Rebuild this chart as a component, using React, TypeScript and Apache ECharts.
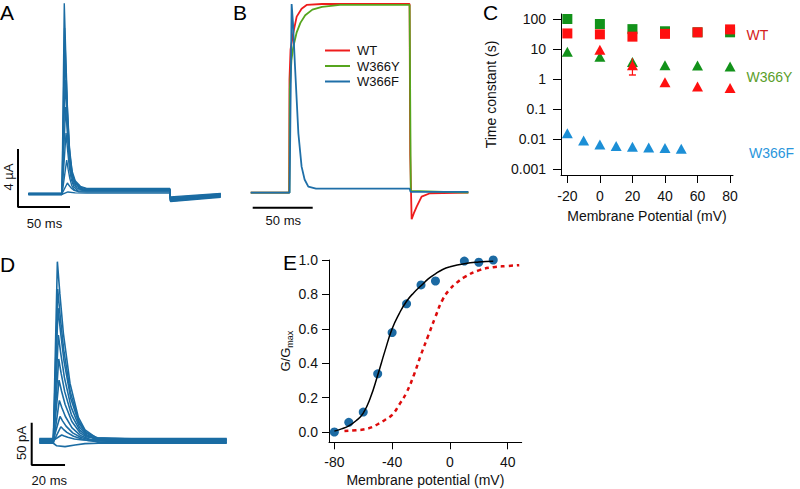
import React, { useEffect, useRef } from "react";
import * as echarts from "echarts";

const FONT = "'Liberation Sans', Arial, Helvetica, sans-serif";
const TRACE_BLUE = "#1b6ca3";

// ---------- Panel A: oocyte currents (t in ms, I in µA) ----------
const A_TRACES: number[][][] = [
  [[10,0.02],[42.3,0.02],[44.5,13.15],[46,9.47],[47.5,6.05],[49.5,3.16],[52,1.58],[55,0.92],[60,0.53],[66,0.38],[146,0.38],[146.6,-0.52],[195,-0.22]],
  [[10,-0.03],[42.3,-0.03],[44.8,11.45],[46.3,8.24],[47.8,5.27],[49.8,2.75],[52.3,1.37],[55.3,0.8],[60.3,0.46],[66,0.35],[146,0.35],[146.6,-0.48],[195,-0.18]],
  [[10,0.04],[42.3,0.04],[45.1,9.72],[46.6,7.0],[48.1,4.47],[50.1,2.33],[52.6,1.17],[55.6,0.68],[60.6,0.39],[66,0.32],[146,0.32],[146.6,-0.45],[195,-0.15]],
  [[10,-0.02],[42.3,-0.02],[45.4,7.86],[46.9,5.66],[48.4,3.62],[50.4,1.89],[52.9,0.94],[55.9,0.55],[60.9,0.32],[66,0.3],[146,0.3],[146.6,-0.42],[195,-0.12]],
  [[10,0],[42.3,0],[45.8,6.0],[47.3,4.32],[48.8,2.76],[50.8,1.44],[53.3,0.72],[56.3,0.42],[61.3,0.28],[66,0.27],[146,0.27],[146.6,-0.38],[195,-0.08]],
  [[10,0.05],[42.3,0.05],[46.2,4.2],[47.7,3.02],[49.2,1.93],[51.2,1.01],[53.7,0.5],[56.7,0.3],[66,0.24],[146,0.24],[146.6,-0.34],[195,-0.05]],
  [[10,-0.04],[42.3,-0.04],[46.8,2.34],[48.3,1.68],[49.8,1.08],[51.8,0.56],[54.3,0.28],[58,0.21],[66,0.2],[146,0.2],[146.6,-0.3],[195,-0.02]],
  [[10,0.02],[42.3,0.02],[47.5,0.76],[49,0.6],[51,0.42],[54,0.25],[58,0.16],[66,0.14],[146,0.14],[146.6,-0.25],[195,0.0]],
  [[10,-0.03],[42.3,-0.03],[48,0.14],[55,0.08],[66,0.06],[146,0.06],[146.6,-0.2],[195,0.03]],
];
const A_SCALEBAR = [[0, 3.1], [0, -0.9], [50, -0.9]];

// ---------- Panel B: normalised currents (t in ms) ----------
const B_WT = [[0.6,0],[32.6,0],[32.9,0.6],[33.8,0.76],[36,0.845],[38.9,0.933],[43,0.975],[47.2,0.995],[60,1.0],[133,1.0],[133.5,0.2],[134.7,-0.141],[136.5,-0.11],[138.9,-0.074],[143,-0.021],[150,-0.003],[182,0]];
const B_W366Y = [[0.6,0],[32.8,0],[33.2,0.55],[34.5,0.7],[36,0.77],[38.9,0.85],[42,0.9],[46,0.94],[52,0.97],[60,0.985],[75,0.995],[133,0.995],[134,0.01],[182,0]];
const B_W366F = [[0.6,0],[33,0],[34.7,1],[35.8,0.9],[37.5,0.67],[40.3,0.315],[43,0.138],[45.5,0.07],[48.6,0.032],[55,0.022],[133,0.022],[133.8,0.005],[182,0.004]];
const B_SCALEBAR = [[2.25, -0.0795], [52.25, -0.0795]];
const B_NAMES = ["WT", "W366Y", "W366F"];

// ---------- Panel C: time constants (s) vs membrane potential (mV) ----------
const C_VOLT = [-20, 0, 20, 40, 60, 80];
const C_WT_SLOW = [33, 30.8, 25.8, 32, 36, 45];
const C_W366Y_SLOW = [100, 68, 46, 39, 36, 36];
const C_W366Y_FAST = [8.1, 5.5, 3.7, 2.9, 2.8, 2.6];
const C_WT_FAST_VOLT = [0, 20, 40, 60, 80];
const C_WT_FAST = [9.5, 2.9, 0.78, 0.56, 0.5];
const C_W366F_VOLT = [-20, -10, 0, 10, 20, 30, 40, 50];
const C_W366F_TAU = [0.0155, 0.0089, 0.0066, 0.0059, 0.0055, 0.0052, 0.005, 0.0047];
const C_WT_ERR_VOLT = 20;
const C_WT_ERR = [1.36, 4.9];
const C_XTICKS = [-20, 0, 20, 40, 60, 80];
const C_YTICKS = [0.001, 0.01, 0.1, 1, 10, 100];

// ---------- Panel D: patch currents (t in ms, I in pA) ----------
const D_TRACES: number[][][] = [
  [[4.6,1],[13,1],[15.4,211.6],[16.9,173.5],[19,127],[23,67.7],[28,27.5],[32,12.7],[39,3],[60,1],[117,1]],
  [[4.6,-2],[13,-2],[15.6,179.3],[17.1,147],[19.2,107.6],[23.2,57.4],[28.2,23.3],[32.2,10.8],[39.2,0],[60,-2],[117,-2]],
  [[4.6,2],[13,2],[15.8,156.8],[17.3,128.6],[19.4,94.1],[23.4,50.2],[28.4,20.4],[32.4,9.4],[39.4,3.5],[60,2],[117,2]],
  [[4.6,-1],[13,-1],[16,124.9],[17.5,102.4],[19.6,74.9],[23.6,40],[28.6,16.2],[32.6,7.5],[39.6,0.5],[60,-1],[117,-1]],
  [[4.6,0],[13,0],[16.2,96.6],[17.7,79.2],[19.8,58],[23.8,30.9],[28.8,12.6],[32.8,5.8],[39.8,1],[60,0],[117,0]],
  [[4.6,2.5],[13,2.5],[16.4,71.6],[17.9,58.7],[20,43],[24,22.9],[29,9.3],[33,4.3],[40,3],[60,2.5],[117,2.5]],
  [[4.6,-2.5],[13,-2.5],[16.6,47.6],[18.1,39],[20.2,28.6],[24.2,15.2],[29.2,6.2],[33.2,2.9],[40.2,-2],[60,-2.5],[117,-2.5]],
  [[4.6,1.5],[13,1.5],[17,28.7],[18.5,23.5],[20.6,17.2],[24.6,9.2],[29.6,3.7],[33.6,1.7],[40.6,1.5],[60,1.5],[117,1.5]],
  [[4.6,-1.5],[13,-1.5],[17.5,16.5],[19,13.5],[21.1,9.9],[25.1,5.3],[30.1,2.1],[34.1,0],[41.1,-1.5],[60,-1.5],[117,-1.5]],
  [[4.6,0.5],[13,0.5],[18,6.7],[19.5,5.5],[21.6,4],[25.6,2.1],[30.6,0.9],[35,0.5],[60,0.5],[117,0.5]],
  [[4.6,-3],[13,-3],[15,-6],[20,-7],[26,-5],[32,-3.5],[40,-3],[117,-3]],
];
const D_SCALEBAR = [[0, 21.3], [0, -28.7], [20, -28.7]];

// ---------- Panel E: conductance-voltage ----------
const E_VOLT = [-80, -70, -60, -50, -40, -30, -20, -10, 10, 20, 30];
const E_G = [0, 0.056, 0.116, 0.338, 0.578, 0.745, 0.855, 0.878, 0.994, 0.987, 1.0];
const E_FIT = [[-80,0.005],[-75,0.018],[-70,0.035],[-65,0.065],[-60,0.11],[-55,0.2],[-50,0.33],[-45,0.47],[-40,0.6],[-35,0.69],[-30,0.76],[-25,0.81],[-20,0.85],[-15,0.89],[-10,0.92],[-5,0.945],[0,0.96],[10,0.978],[20,0.988],[30,0.993]];
const E_WT_FIT = [[-73,0.005],[-65,0.01],[-60,0.014],[-55,0.025],[-50,0.045],[-45,0.07],[-40,0.1],[-35,0.16],[-30,0.23],[-25,0.33],[-20,0.45],[-15,0.56],[-10,0.67],[-5,0.77],[0,0.83],[5,0.87],[10,0.9],[20,0.94],[30,0.958],[40,0.965],[48,0.97]];
const E_XTICKS = [-80, -40, 0, 40];
const E_YTICKS = [0, 0.2, 0.4, 0.6, 0.8, 1.0];

const pairs = (xs: number[], ys: number[]) => xs.map((x, i) => [x, ys[i]]);

const hiddenAxis = (gridIndex: number, min: number, max: number) => ({
  type: "value", gridIndex, min, max, show: false, splitLine: { show: false },
});

const axisText = { fontSize: 14, color: "#111", fontFamily: FONT };

function buildOption() {
  const series: any[] = [];
  A_TRACES.forEach((d) =>
    series.push({ type: "line", xAxisIndex: 0, yAxisIndex: 0, data: d, symbol: "none", silent: true,
      lineStyle: { color: TRACE_BLUE, width: 1.4 } })
  );
  series.push({ type: "line", xAxisIndex: 0, yAxisIndex: 0, data: A_SCALEBAR, symbol: "none", silent: true,
    lineStyle: { color: "#000", width: 2 } });

  const bCols = ["#ee1c1c", "#56a51e", "#1f6fa8"];
  [B_WT, B_W366Y, B_W366F].forEach((d, i) =>
    series.push({ type: "line", name: B_NAMES[i], xAxisIndex: 1, yAxisIndex: 1, data: d, symbol: "none",
      silent: true, itemStyle: { color: bCols[i] }, lineStyle: { color: bCols[i], width: 1.8 } })
  );
  series.push({ type: "line", xAxisIndex: 1, yAxisIndex: 1, data: B_SCALEBAR, symbol: "none", silent: true,
    lineStyle: { color: "#000", width: 2 } });

  const cGreen = "#12921a";
  const cRed = "#ff1010";
  const cBlue = "#1c8fd6";
  const sc = (data: number[][], symbol: string, size: any, color: string) => ({
    type: "scatter", xAxisIndex: 2, yAxisIndex: 2, data, symbol, symbolSize: size,
    itemStyle: { color, opacity: 1 },
  });
  series.push(sc(pairs(C_VOLT, C_W366Y_SLOW), "rect", 10, cGreen));
  series.push(sc(pairs(C_VOLT, C_WT_SLOW), "rect", 10, cRed));
  series.push(sc(pairs(C_VOLT, C_W366Y_FAST), "triangle", [11, 10], cGreen));
  series.push({ type: "line", xAxisIndex: 2, yAxisIndex: 2, data: C_WT_ERR.map((v) => [C_WT_ERR_VOLT, v]), symbol: "none", lineStyle: { color: cRed, width: 1.2 } });
  series.push(sc([[C_WT_ERR_VOLT, C_WT_ERR[0]]], "rect", [7, 1.4], cRed));
  series.push(sc(pairs(C_WT_FAST_VOLT, C_WT_FAST), "triangle", [11, 10], cRed));
  series.push(sc(pairs(C_W366F_VOLT, C_W366F_TAU), "triangle", [11, 10], cBlue));

  D_TRACES.forEach((d) =>
    series.push({ type: "line", xAxisIndex: 3, yAxisIndex: 3, data: d, symbol: "none", silent: true,
      lineStyle: { color: TRACE_BLUE, width: 1.6 } })
  );
  series.push({ type: "line", xAxisIndex: 3, yAxisIndex: 3, data: D_SCALEBAR, symbol: "none", silent: true,
    lineStyle: { color: "#000", width: 2 } });

  series.push({ type: "line", xAxisIndex: 4, yAxisIndex: 4, data: E_WT_FIT, symbol: "none", smooth: true,
    lineStyle: { color: "#dd0c0c", width: 2.5, type: [4, 4] } });
  series.push({ type: "line", xAxisIndex: 4, yAxisIndex: 4, data: E_FIT, symbol: "none", smooth: true,
    lineStyle: { color: "#000", width: 1.5 } });
  series.push({ type: "scatter", xAxisIndex: 4, yAxisIndex: 4, data: pairs(E_VOLT, E_G), symbol: "circle", symbolSize: 9,
    itemStyle: { color: "#1c6aa3", opacity: 1 } });

  const grids = [
    { left: 18, top: 0, width: 208, height: 210 },
    { left: 250, top: 0, width: 222, height: 225 },
    { left: 561, top: 14, width: 172, height: 161 },
    { left: 31.7, top: 255, width: 200, height: 215 },
    { left: 329, top: 260, width: 192.7, height: 182.3 },
  ].map((g) => ({ ...g, containLabel: false, outerBoundsMode: "none" }));

  const xAxis: any[] = [
    hiddenAxis(0, 0, 200),
    hiddenAxis(1, 0, 185),
    {
      type: "value", gridIndex: 2, min: -23.9, max: 81.8,
      axisLine: { show: true, onZero: false, lineStyle: { color: "#000", width: 1 } },
      axisTick: { show: true, length: 8, customValues: C_XTICKS, lineStyle: { color: "#000" } },
      axisLabel: { ...axisText, margin: 14, customValues: C_XTICKS },
      splitLine: { show: false },
      name: "Membrane Potential (mV)", nameLocation: "middle", nameGap: 34, nameTextStyle: axisText,
    },
    hiddenAxis(3, 0, 120),
    {
      type: "value", gridIndex: 4, min: -83.7, max: 49.7,
      axisLine: { show: true, onZero: false, lineStyle: { color: "#000", width: 1 } },
      axisTick: { show: true, length: 7, customValues: E_XTICKS, lineStyle: { color: "#000" } },
      axisLabel: { ...axisText, margin: 13, customValues: E_XTICKS },
      splitLine: { show: false },
      name: "Membrane potential (mV)", nameLocation: "middle", nameGap: 31, nameTextStyle: axisText,
    },
  ];
  const yAxis: any[] = [
    hiddenAxis(0, -1.1034, 13.3793),
    hiddenAxis(1, -0.1712, 1.0212),
    {
      type: "log", logBase: 10, gridIndex: 2, min: 0.000631, max: 146.8,
      axisLine: { show: true, onZero: false, lineStyle: { color: "#000", width: 1 } },
      axisTick: { show: true, length: 8, customValues: C_YTICKS, lineStyle: { color: "#000" } },
      axisLabel: { ...axisText, margin: 15, customValues: C_YTICKS, formatter: (v: number) => String(v) },
      splitLine: { show: false },
      name: "Time constant (s)", nameLocation: "middle", nameGap: 63, nameTextStyle: axisText,
    },
    hiddenAxis(3, -34.63, 219.5),
    {
      type: "value", gridIndex: 4, min: -0.06, max: 1.0,
      axisLine: { show: true, onZero: false, lineStyle: { color: "#000", width: 1 } },
      axisTick: { show: true, length: 7, customValues: E_YTICKS, lineStyle: { color: "#000" } },
      axisLabel: { ...axisText, margin: 11, customValues: E_YTICKS, formatter: (v: number) => v.toFixed(1) },
      splitLine: { show: false },
      name: "{a|G/G}{b|max}", nameLocation: "middle", nameGap: 26,
      nameTextStyle: {
        rich: {
          a: { fontSize: 13, fontFamily: FONT, color: "#111", lineHeight: 18, verticalAlign: "middle" },
          b: { fontSize: 9, fontFamily: FONT, color: "#111", lineHeight: 18, verticalAlign: "bottom" },
        },
      },
    },
  ];

  const letter = (t: string, x: number, y: number) => ({
    type: "text", x, y, silent: true,
    style: { text: t, fontSize: 21, fontFamily: FONT, fill: "#000", verticalAlign: "top", align: "left" },
  });
  const label = (t: string, x: number, y: number, color: string, size = 14, rotate = 0, align = "left") => ({
    type: "text", x, y, rotation: rotate, silent: true,
    style: { text: t, fontSize: size, fontFamily: FONT, fill: color, verticalAlign: "middle", align },
  });

  const graphic = [
    letter("A", 0, 2),
    letter("B", 233, 2),
    letter("C", 483, 2),
    letter("D", 0, 254),
    letter("E", 283, 252),
    label("4 µA", 8, 177, "#111", 13, Math.PI / 2, "center"),
    label("50 ms", 44.5, 223, "#111", 13, 0, "center"),
    label("50 ms", 283.3, 220, "#111", 13, 0, "center"),
    label("50 pA", 21.7, 443, "#111", 13, Math.PI / 2, "center"),
    label("20 ms", 49.3, 480, "#111", 13, 0, "center"),
    label("WT", 746.5, 35, "#d42020", 14),
    label("W366Y", 746.5, 77, "#5b9e2a", 14),
    label("W366F", 749, 153, "#2a96dc", 14),
  ];

  return {
    animation: false,
    backgroundColor: "#fff",
    textStyle: { fontFamily: FONT },
    grid: grids,
    xAxis,
    yAxis,
    legend: {
      data: B_NAMES, orient: "vertical", left: 325, top: 43, icon: "rect", itemWidth: 25, itemHeight: 2, itemGap: 0.5,
      selectedMode: false, padding: 0,
      textStyle: { fontSize: 13, fontFamily: FONT, color: "#111", lineHeight: 15, padding: [0, 0, 0, 2] },
    },
    series,
    graphic,
  };
}

export default function App() {
  const ref = useRef<HTMLDivElement>(null);
  useEffect(() => {
    document.body.style.margin = "0";
    if (!ref.current) return;
    const chart = echarts.init(ref.current, undefined, { renderer: "svg" });
    chart.setOption(buildOption() as any);
    return () => chart.dispose();
  }, []);
  return <div ref={ref} style={{ width: 800, height: 489 }} />;
}
